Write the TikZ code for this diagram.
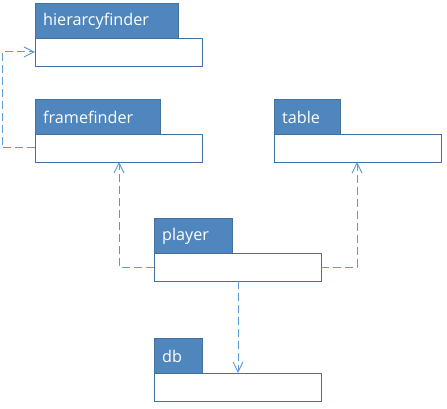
\documentclass[tikz,border=0pt]{standalone}
\usepackage{fontspec}
\setmainfont{Open Sans}
\usetikzlibrary{arrows.meta}
\definecolor{tabfill}{HTML}{4F86BD}
\definecolor{boxline}{HTML}{41719C}
\definecolor{conn}{HTML}{5B9BD5}
\tikzset{
  pkgbody/.style={draw=boxline, fill=white, line width=0.9pt, anchor=north west, minimum width=167pt, minimum height=28pt, inner sep=0pt, outer sep=0pt},
  pkgtab/.style={draw=boxline, fill=tabfill, line width=0.9pt, anchor=south west, minimum height=35pt, inner sep=0pt, outer sep=0pt},
  pkglabel/.style={text=white, font=\fontsize{16.2}{19}\selectfont, anchor=west, inner sep=0pt},
  dep/.style={draw=conn, line width=1pt, dash pattern=on 8pt off 4pt, -{Straight Barb[length=10pt,width=10pt,line width=1pt]}},
}
\begin{document}
\begin{tikzpicture}[x=1pt,y=-1pt]
\useasboundingbox (0,0) rectangle (447,409);
% hierarcyfinder
\node[pkgbody] (hb) at (35,38) {};
\node[pkgtab, minimum width=143pt] (ht) at (35,38) {};
\node[pkglabel] (hl) at (43,21) {hierarcyfinder};
% framefinder
\node[pkgbody] (fb) at (35,134) {};
\node[pkgtab, minimum width=125pt] (ft) at (35,134) {};
\node[pkglabel] (fl) at (43,117) {framefinder};
% table
\node[pkgbody] (tb) at (274,134) {};
\node[pkgtab, minimum width=66pt] (tt) at (274,134) {};
\node[pkglabel] (tl) at (282,117) {table};
% player
\node[pkgbody] (pb) at (154,253) {};
\node[pkgtab, minimum width=78pt] (pt) at (154,253) {};
\node[pkglabel] (pl) at (162,236) {player};
% db
\node[pkgbody] (db) at (154,373) {};
\node[pkgtab, minimum width=48pt] (dt) at (154,373) {};
\node[pkglabel] (dl) at (162,356) {db};
% connectors
\draw[dep] (fb.west) -- ++(-33,0) |- (hb.west);
\draw[dep] (pb.west) -| (fb.south -| 119,0);
\draw[dep] (pb.east) -| (tb.south -| 357,0);
\draw[dep] (pb.south -| 238,0) -- (db.north -| 238,0);
\end{tikzpicture}
\end{document}
